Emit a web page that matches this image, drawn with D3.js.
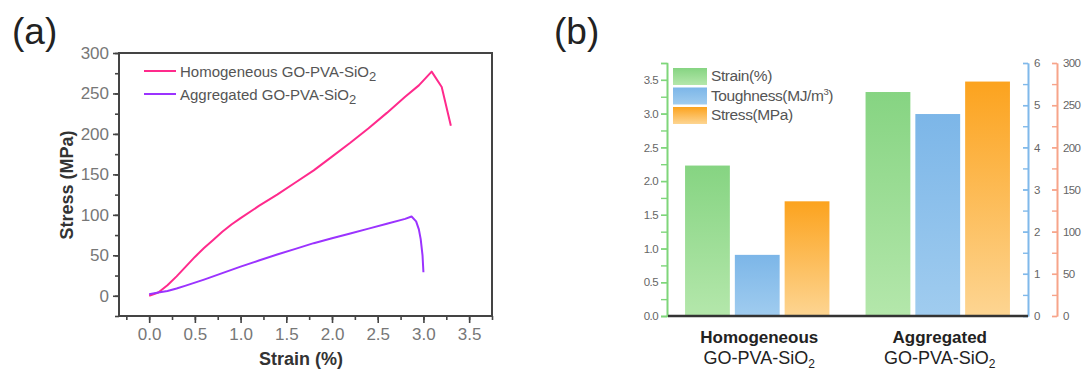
<!DOCTYPE html>
<html>
<head>
<meta charset="utf-8">
<script src="https://cdn.jsdelivr.net/npm/d3@7"></script>
<style>
  body { margin: 0; background: #fff; }
  text { font-family: "Liberation Sans", Arial, sans-serif; }
</style>
</head>
<body>
<svg width="1086" height="372"></svg>
<script>
// ---- panel (a): stress-strain curves ----
const homStrain = [0, 0.1, 0.2, 0.3, 0.4, 0.5, 0.6, 0.7, 0.8, 0.9, 1.0, 1.2, 1.4, 1.6, 1.8, 2.0, 2.2, 2.4, 2.6, 2.8, 2.95, 3.09, 3.2, 3.3];
const homStress = [0, 4, 13, 24, 36, 48, 59, 69, 79, 88, 96, 111, 125, 140, 155, 172, 189, 207, 226, 246, 260, 277, 258, 210];
const aggStrain = [0, 0.1, 0.2, 0.3, 0.4, 0.6, 0.8, 1.0, 1.2, 1.4, 1.6, 1.8, 2.0, 2.2, 2.4, 2.6, 2.8, 2.87, 2.92, 2.95, 2.97, 2.99, 3.0];
const aggStress = [2, 4, 6, 9, 12.5, 20, 28, 36, 43.5, 51, 58, 65, 71, 77, 83, 89, 95, 98, 92, 82, 70, 50, 29];
const curveNames = ["Homogeneous GO-PVA-SiO", "Aggregated GO-PVA-SiO"];
const curveColors = ["#ff2a8c", "#9b33ff"];

// ---- panel (b): grouped bars ----
const samples = ["Homogeneous", "Aggregated"];
const strainVals = [2.23, 3.32];      // left axis (%)
const toughVals = [1.45, 4.79];       // blue axis (MJ/m3)
const stressVals = [136, 278];        // orange axis (MPa)
const barNames = ["Strain(%)", "Toughness(MJ/m", "Stress(MPa)"];

const svg = d3.select("svg");

// ================= (a) =================
const ga = svg.append("g");
const xA = d3.scaleLinear().domain([-0.33, 3.75]).range([119, 492]);
const yA = d3.scaleLinear().domain([-25, 300]).range([316, 53]);

ga.append("text").attr("x", 12).attr("y", 44)
  .attr("font-size", 37).attr("fill", "#222").text("(a)");

// minor ticks
ga.append("g").attr("transform", "translate(0,316)")
  .call(d3.axisBottom(xA).tickValues(d3.range(-0.25, 3.8, 0.25)).tickSize(4).tickFormat(""))
  .call(g => g.select(".domain").remove());
ga.append("g").attr("transform", "translate(119,0)")
  .call(d3.axisLeft(yA).tickValues(d3.range(-25, 301, 25)).tickSize(4).tickFormat(""))
  .call(g => g.select(".domain").remove());

const xAxA = ga.append("g").attr("transform", "translate(0,316)")
  .call(d3.axisBottom(xA).tickValues(d3.range(0, 3.6, 0.5)).tickSize(7).tickPadding(5).tickFormat(d3.format(".1f")));
const yAxA = ga.append("g").attr("transform", "translate(119,0)")
  .call(d3.axisLeft(yA).tickValues(d3.range(0, 301, 50)).tickSize(6).tickPadding(4));
[xAxA, yAxA].forEach(ax => {
  ax.select(".domain").remove();
  ax.selectAll("text").attr("font-size", 17).attr("fill", "#777").style("font-family", "Liberation Sans, Arial");
});
ga.selectAll(".tick line").attr("stroke", "#444").attr("stroke-width", 1.6);

// frame
ga.append("rect").attr("x", 119).attr("y", 53).attr("width", 373).attr("height", 263)
  .attr("fill", "none").attr("stroke", "#444").attr("stroke-width", 2);

// axis titles
ga.append("text").attr("x", 301).attr("y", 365).attr("text-anchor", "middle")
  .attr("font-size", 18).attr("font-weight", "bold").attr("fill", "#333").text("Strain (%)");
ga.append("text").attr("transform", "translate(73,185) rotate(-90)").attr("text-anchor", "middle")
  .attr("font-size", 18).attr("font-weight", "bold").attr("fill", "#333").text("Stress (MPa)");

const line = d3.line().x(d => xA(d[0])).y(d => yA(d[1]));
const curves = [d3.zip(homStrain, homStress), d3.zip(aggStrain, aggStress)];
ga.selectAll("path.curve").data(curves).join("path")
  .attr("class", "curve")
  .attr("d", line)
  .attr("fill", "none")
  .attr("stroke", (d, i) => curveColors[i])
  .attr("stroke-width", 2)
  .attr("stroke-linejoin", "round");

// legend (a)
curveNames.forEach((name, i) => {
  const y = 71 + i * 23;
  ga.append("line").attr("x1", 144).attr("x2", 176).attr("y1", y).attr("y2", y)
    .attr("stroke", curveColors[i]).attr("stroke-width", 2);
  const t = ga.append("text").attr("x", 180).attr("y", y + 6)
    .attr("font-size", 15).attr("fill", "#555").text(name);
  t.append("tspan").attr("dy", 4).attr("font-size", 13).text("2");
});

// ================= (b) =================
const gb = svg.append("g");
const defs = svg.append("defs");
const barColors = [["#86d482", "#b4e7ab"], ["#7cb6e8", "#a0ccef"], ["#fca31e", "#fdd592"]];
barColors.forEach((c, i) => {
  const lg = defs.append("linearGradient").attr("id", "grad" + i)
    .attr("x1", 0).attr("y1", 0).attr("x2", 0).attr("y2", 1);
  lg.append("stop").attr("offset", "0%").attr("stop-color", c[0]);
  lg.append("stop").attr("offset", "100%").attr("stop-color", c[1]);
});

gb.append("text").attr("x", 554).attr("y", 44)
  .attr("font-size", 37).attr("fill", "#222").text("(b)");

const x0 = d3.scaleBand().domain(samples).range([667, 1028]).paddingInner(0.2).paddingOuter(0.1);
const x1 = d3.scaleBand().domain([0, 1, 2]).range([0, x0.bandwidth()]).paddingInner(0.1);
const yG = d3.scaleLinear().domain([0, 3.75]).range([316, 63]);
const yBl = d3.scaleLinear().domain([0, 6]).range([316, 63]);
const yOr = d3.scaleLinear().domain([0, 300]).range([316, 63]);
const barScales = [yG, yBl, yOr];
const barVals = [strainVals, toughVals, stressVals];

const groups = gb.selectAll("g.grp").data(samples).join("g")
  .attr("class", "grp")
  .attr("transform", d => `translate(${x0(d)},0)`);
groups.selectAll("rect").data((d, gi) => [0, 1, 2].map(k => ({k, v: barVals[k][gi]})))
  .join("rect")
  .attr("x", d => x1(d.k))
  .attr("width", x1.bandwidth())
  .attr("y", d => barScales[d.k](d.v))
  .attr("height", d => 316 - barScales[d.k](d.v))
  .attr("fill", d => `url(#grad${d.k})`);

// axes
function styleB(ax, color) {
  ax.select(".domain").attr("stroke", color).attr("stroke-width", 1.6);
  ax.selectAll(".tick line").attr("stroke", color).attr("stroke-width", 1.4);
  ax.selectAll("text").attr("font-size", 11.5).attr("fill", "#666")
    .style("font-family", "Liberation Sans, Arial").attr("letter-spacing", -0.6);
}
const gCol = "#7fd67b", bCol = "#80b9ea", oCol = "#f7a48a";

const axG = gb.append("g").attr("transform", "translate(667,0)");
axG.append("g").call(d3.axisLeft(yG).tickValues(d3.range(0, 3.8, 0.25)).tickSize(6).tickFormat(""))
  .call(a => styleB(a, gCol));
axG.append("g").call(d3.axisLeft(yG).tickValues(d3.range(0, 3.6, 0.5)).tickSize(6).tickSizeOuter(0).tickPadding(3).tickFormat(d3.format(".1f")))
  .call(a => styleB(a, gCol));

const axBl = gb.append("g").attr("transform", "translate(1028,0)");
axBl.append("g").call(d3.axisRight(yBl).tickValues(d3.range(0, 6.1, 0.5)).tickSizeInner(-5).tickSizeOuter(0).tickFormat(""))
  .call(a => styleB(a, bCol));
axBl.append("g").call(d3.axisRight(yBl).ticks(6).tickSizeInner(-5).tickSizeOuter(0).tickPadding(6))
  .call(a => styleB(a, bCol));

const axOr = gb.append("g").attr("transform", "translate(1057,0)");
axOr.append("g").call(d3.axisRight(yOr).tickValues(d3.range(0, 301, 25)).tickSizeInner(-5).tickSizeOuter(0).tickFormat(""))
  .call(a => styleB(a, oCol));
axOr.append("g").call(d3.axisRight(yOr).tickValues(d3.range(0, 301, 50)).tickSizeInner(-5).tickSizeOuter(0).tickPadding(6))
  .call(a => styleB(a, oCol));

// baseline
gb.append("line").attr("x1", 668).attr("x2", 1028).attr("y1", 316).attr("y2", 316)
  .attr("stroke", "#333").attr("stroke-width", 2.5);

// category labels
samples.forEach(s => {
  const cx = x0(s) + x0.bandwidth() / 2 + 2;
  gb.append("text").attr("x", cx).attr("y", 343).attr("text-anchor", "middle")
    .attr("font-size", 17).attr("font-weight", "bold").attr("fill", "#222").text(s);
  const t = gb.append("text").attr("x", cx).attr("y", 364).attr("text-anchor", "middle")
    .attr("font-size", 18).attr("fill", "#222").text("GO-PVA-SiO");
  t.append("tspan").attr("dy", 4).attr("font-size", 12).text("2");
});

// legend (b)
barNames.forEach((name, i) => {
  const y = 68 + i * 19.5;
  gb.append("rect").attr("x", 673).attr("y", y).attr("width", 34).attr("height", 17)
    .attr("fill", `url(#grad${i})`);
  const t = gb.append("text").attr("x", 711).attr("y", y + 13)
    .attr("font-size", 15.5).attr("fill", "#555").attr("letter-spacing", -0.4).text(name);
  if (i === 1) {
    t.append("tspan").attr("dy", -6).attr("font-size", 9.5).text("3");
    t.append("tspan").attr("dy", 6).text(")");
  }
});
</script>
</body>
</html>
